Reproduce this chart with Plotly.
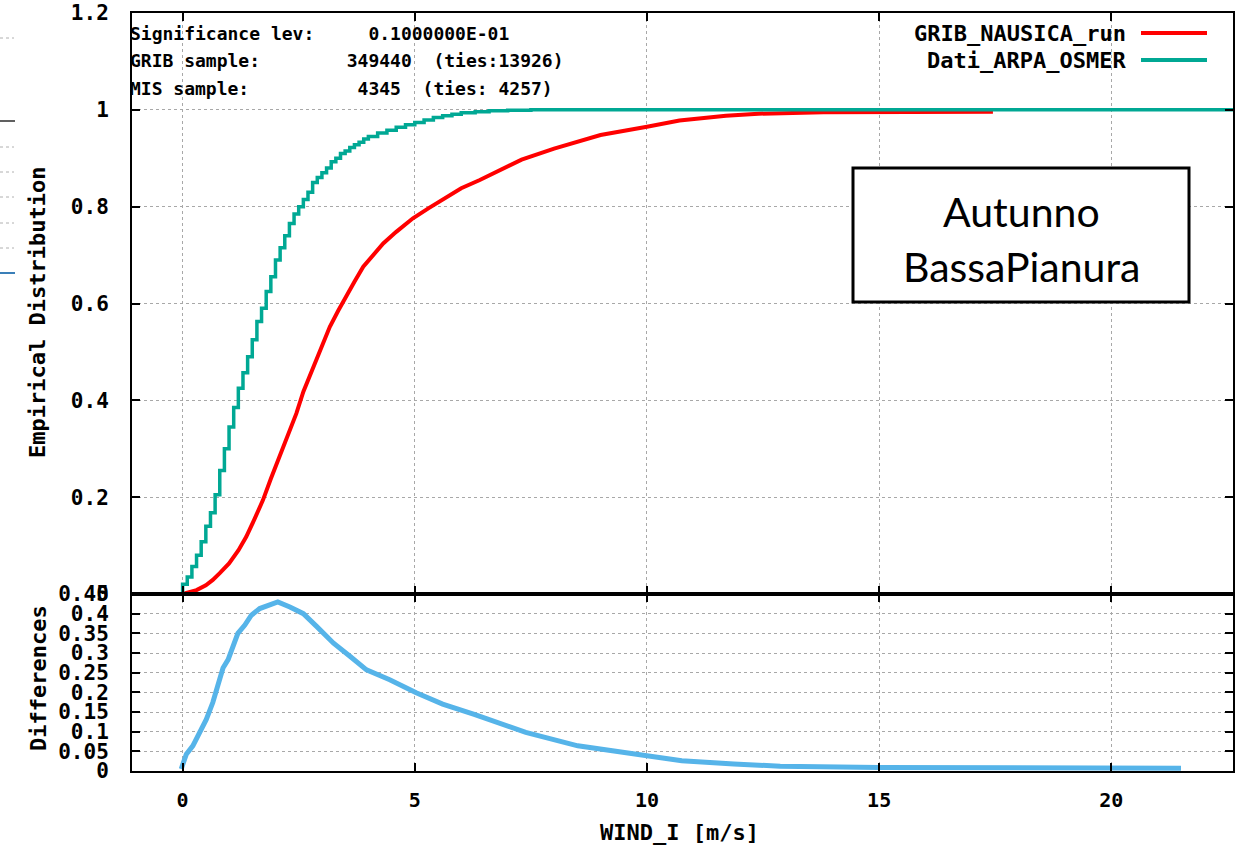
import plotly.graph_objects as go

# ---------------- data ----------------
TEAL_X = [-1.1, 0.0, 0.1, 0.2, 0.3, 0.4, 0.5, 0.6, 0.7, 0.8, 0.9, 1.0, 1.1, 1.2, 1.3, 1.4,
          1.5, 1.6, 1.7, 1.8, 1.9, 2.0, 2.1, 2.2, 2.3, 2.4, 2.5, 2.6, 2.7, 2.8, 2.9,
          3.0, 3.1, 3.2, 3.3, 3.4, 3.5, 3.6, 3.7, 3.8, 3.9, 4.0, 4.2, 4.4, 4.6, 4.8,
          5.0, 5.2, 5.4, 5.6, 5.8, 6.0, 6.3, 6.6, 7.0, 7.5, 22.7]
TEAL_Y = [0.0, 0.02, 0.035, 0.057, 0.08, 0.108, 0.14, 0.168, 0.205, 0.255, 0.30, 0.345,
          0.385, 0.425, 0.457, 0.49, 0.525, 0.563, 0.59, 0.625, 0.655, 0.69, 0.715,
          0.74, 0.765, 0.785, 0.80, 0.815, 0.83, 0.85, 0.86, 0.87, 0.88, 0.893, 0.90,
          0.91, 0.915, 0.922, 0.928, 0.933, 0.94, 0.945, 0.952, 0.958, 0.964, 0.969,
          0.974, 0.979, 0.984, 0.988, 0.991, 0.994, 0.996, 0.998, 0.999, 1.0, 1.0]

RED_X = [0.0, 0.15, 0.3, 0.5, 0.65, 0.8, 1.0, 1.2, 1.37, 1.55, 1.73, 1.9, 2.09, 2.25,
         2.45, 2.6, 2.81, 3.0, 3.17, 3.35, 3.5, 3.7, 3.89, 4.1, 4.32, 4.6, 4.96, 5.3,
         5.68, 6.0, 6.4, 7.3, 8.0, 9.0, 10.0, 10.7, 11.7, 12.4, 13.8, 17.45]
RED_Y = [0.0, 0.003, 0.008, 0.018, 0.029, 0.043, 0.063, 0.09, 0.118, 0.155, 0.194,
         0.238, 0.283, 0.325, 0.373, 0.418, 0.469, 0.515, 0.552, 0.585, 0.612, 0.645,
         0.676, 0.70, 0.724, 0.748, 0.776, 0.797, 0.82, 0.838, 0.855, 0.897, 0.92,
         0.948, 0.965, 0.978, 0.988, 0.992, 0.995, 0.996]

DIFF_X = [-0.03, 0.08, 0.22, 0.37, 0.51, 0.65, 0.76, 0.87, 0.98, 1.08, 1.19, 1.34, 1.48,
          1.66, 1.88, 2.05, 2.31, 2.6, 2.89, 3.25, 3.61, 3.96, 4.46, 5.03, 5.6, 6.28,
          7.39, 8.51, 10.0, 10.75, 11.87, 12.87, 15.0, 21.5]
DIFF_Y = [0.005, 0.043, 0.064, 0.102, 0.131, 0.174, 0.215, 0.262, 0.283, 0.316, 0.35,
          0.371, 0.396, 0.413, 0.421, 0.43, 0.417, 0.40, 0.367, 0.325, 0.291, 0.257,
          0.232, 0.199, 0.17, 0.144, 0.098, 0.064, 0.039, 0.026, 0.018, 0.012, 0.009,
          0.007]

SERIES_NAMES = ["GRIB_NAUSICA_run", "Dati_ARPA_OSMER"]
STATS_LINES = ["Significance lev:     0.1000000E-01",
               "GRIB sample:        349440  (ties:13926)",
               "MIS sample:          4345  (ties: 4257)"]
BOX_LINES = ["Autunno", "BassaPianura"]
X_TICKS = [0, 5, 10, 15, 20]
TOP_Y_TICKS = [0, 0.2, 0.4, 0.6, 0.8, 1.0, 1.2]
BOT_Y_TICKS = [0, 0.05, 0.1, 0.15, 0.2, 0.25, 0.3, 0.35, 0.4, 0.45]

# ---------------- styles ----------------
W, H = 1238, 849
RED = "#ff0000"
TEAL = "#00a894"
BLUE = "#56b4e9"
GRID = "#a8a8a8"
MONO = "DejaVu Sans Mono"


def px(x):
    return x / W


def py(y):
    return 1 - y / H


fig = go.Figure()
fig.add_trace(go.Scatter(x=RED_X, y=RED_Y, mode="lines", name=SERIES_NAMES[0],
                         line=dict(color=RED, width=4), xaxis="x", yaxis="y"))
fig.add_trace(go.Scatter(x=TEAL_X, y=TEAL_Y, mode="lines", name=SERIES_NAMES[1],
                         line=dict(color=TEAL, width=3.5, shape="hv"), xaxis="x", yaxis="y"))
fig.add_trace(go.Scatter(x=DIFF_X, y=DIFF_Y, mode="lines", name="Differences",
                         line=dict(color=BLUE, width=5), xaxis="x2", yaxis="y2"))

xr = [-1.09, 22.62]
axis_common = dict(showline=True, linecolor="black", linewidth=2, mirror="ticks",
                   ticks="inside", ticklen=8, tickcolor="black", tickwidth=1.5,
                   showgrid=True, gridcolor=GRID, griddash="3px,3px", gridwidth=1,
                   zeroline=False, automargin=False)

top_dom = [py(594), py(13)]
bot_dom = [py(771), py(594)]
xdom = [px(132), px(1233)]

fig.update_layout(
    width=W, height=H, margin=dict(l=0, r=0, t=0, b=0, pad=0, autoexpand=False),
    paper_bgcolor="white", plot_bgcolor="white", showlegend=False,
    font=dict(family=MONO, color="black", weight="bold"),
    xaxis=dict(domain=xdom, range=xr, tickvals=X_TICKS, showticklabels=False,
               anchor="y", **axis_common),
    yaxis=dict(domain=top_dom, range=[0, 1.2], tickvals=TOP_Y_TICKS,
               ticktext=["0", "0.2", "0.4", "0.6", "0.8", "1", "1.2"],
               tickfont=dict(family=MONO, size=21, weight="bold"),
               ticklabelstandoff=17, anchor="x", **axis_common),
    xaxis2=dict(domain=xdom, range=xr, tickvals=X_TICKS, anchor="y2",
                tickfont=dict(family=MONO, size=20, weight="bold"),
                ticklabelstandoff=10, **axis_common),
    yaxis2=dict(domain=bot_dom, range=[0, 0.45], tickvals=BOT_Y_TICKS,
                ticktext=["0", "0.05", "0.1", "0.15", "0.2", "0.25", "0.3", "0.35", "0.4", "0.45"],
                tickfont=dict(family=MONO, size=21, weight="bold"),
                ticklabelstandoff=17, anchor="x2", **axis_common),
)

ann = []
# statistics text
for i, line in enumerate(STATS_LINES):
    ann.append(dict(x=px(128), y=py(33 + 28 * i), xref="paper", yref="paper",
                    xanchor="left", yanchor="middle", showarrow=False, text=line,
                    font=dict(family=MONO, size=18, weight="bold", color="black")))
# legend texts
for i, name in enumerate(SERIES_NAMES):
    ann.append(dict(x=px(1128), y=py(33 + 27 * i), xref="paper", yref="paper",
                    xanchor="right", yanchor="middle", showarrow=False, text=name,
                    font=dict(family=MONO, size=22, weight="bold", color="black")))
# axis titles
ann.append(dict(x=px(38), y=py(313), xref="paper", yref="paper", textangle=-90,
                xanchor="center", yanchor="middle",
                showarrow=False, text="Empirical Distribution",
                font=dict(family=MONO, size=22, weight="bold")))
ann.append(dict(x=px(38), y=py(678), xref="paper", yref="paper", textangle=-90,
                xanchor="center", yanchor="middle",
                showarrow=False, text="Differences",
                font=dict(family=MONO, size=22, weight="bold")))
ann.append(dict(x=px(680), y=py(832), xref="paper", yref="paper",
                xanchor="center", yanchor="middle",
                showarrow=False, text="WIND_I [m/s]",
                font=dict(family=MONO, size=22, weight="bold")))
# box text
for i, line in enumerate(BOX_LINES):
    ann.append(dict(x=px(1021), y=py(211 + 55 * i), xref="paper", yref="paper",
                    xanchor="center", yanchor="middle", showarrow=False, text=line,
                    font=dict(family="Lato", size=41, color="black", weight="normal")))
fig.update_layout(annotations=ann)

shapes = []
# legend line samples
shapes.append(dict(type="line", xref="paper", yref="paper", x0=px(1141), x1=px(1207),
                   y0=py(33), y1=py(33), line=dict(color=RED, width=4)))
shapes.append(dict(type="line", xref="paper", yref="paper", x0=px(1141), x1=px(1207),
                   y0=py(60), y1=py(60), line=dict(color=TEAL, width=4)))
# text box
shapes.append(dict(type="rect", xref="paper", yref="paper", x0=px(853), x1=px(1189),
                   y0=py(302), y1=py(168), line=dict(color="black", width=3),
                   fillcolor="white", layer="above"))
# left-edge fragments of a neighbouring picture
for yy in [38, 147, 172, 197, 223, 248]:
    shapes.append(dict(type="line", xref="paper", yref="paper", x0=0, x1=px(14),
                       y0=py(yy), y1=py(yy), line=dict(color="#b0b0b0", width=1, dash="3px,3px")))
shapes.append(dict(type="line", xref="paper", yref="paper", x0=0, x1=px(15),
                   y0=py(121), y1=py(121), line=dict(color="#606060", width=2)))
shapes.append(dict(type="line", xref="paper", yref="paper", x0=0, x1=px(15),
                   y0=py(273), y1=py(273), line=dict(color="#3a7fb8", width=2)))
fig.update_layout(shapes=shapes)

fig.write_html("out.html", config={"displayModeBar": False},
               post_script="document.body.style.margin='0';document.body.style.overflow='hidden';")
